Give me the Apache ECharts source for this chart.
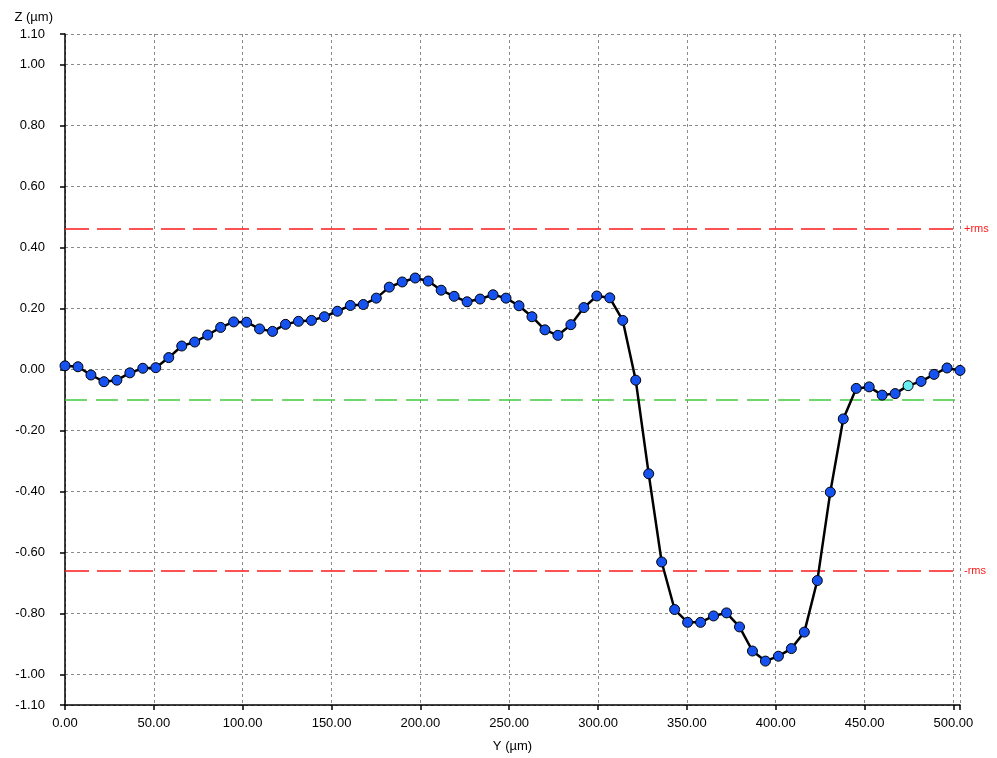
<!DOCTYPE html>
<html>
<head>
<meta charset="utf-8">
<title>Profile Z (µm)</title>
<script src="https://cdn.jsdelivr.net/npm/echarts@6/dist/echarts.min.js"></script>
<style>
  html, body { margin: 0; padding: 0; background: #fff; }
  #chart { width: 997px; height: 758px; }
</style>
</head>
<body>
<div id="chart"></div>
<script>
// Sample positions along the profile (µm)
var positionsY = [
  0, 7.3, 14.6, 21.9, 29.2, 36.5, 43.8, 51.1, 58.4, 65.7,
  73.0, 80.3, 87.6, 94.9, 102.2, 109.5, 116.8, 124.1, 131.4, 138.7,
  146.0, 153.3, 160.6, 167.9, 175.2, 182.5, 189.8, 197.1, 204.4, 211.7,
  219.0, 226.3, 233.6, 240.9, 248.2, 255.5, 262.8, 270.1, 277.4, 284.7,
  292.0, 299.3, 306.6, 313.9, 321.2, 328.5, 335.8, 343.1, 350.4, 357.7,
  365.0, 372.3, 379.6, 386.9, 394.2, 401.5, 408.8, 416.1, 423.4, 430.7,
  438.0, 445.3, 452.6, 459.9, 467.2, 474.5, 481.8, 489.1, 496.4, 503.7
];

// Height values (µm)
var heightsZ = [
  0.012, 0.009, -0.018, -0.040, -0.035, -0.011, 0.004, 0.006, 0.039, 0.077,
  0.090, 0.113, 0.138, 0.156, 0.155, 0.133, 0.125, 0.148, 0.158, 0.161,
  0.173, 0.191, 0.210, 0.213, 0.234, 0.270, 0.287, 0.300, 0.290, 0.260,
  0.240, 0.222, 0.231, 0.245, 0.234, 0.209, 0.173, 0.130, 0.112, 0.147,
  0.203, 0.241, 0.235, 0.161, -0.035, -0.342, -0.631, -0.787, -0.829, -0.829,
  -0.808, -0.798, -0.844, -0.923, -0.956, -0.940, -0.915, -0.861, -0.692, -0.402,
  -0.162, -0.062, -0.057, -0.084, -0.079, -0.053, -0.039, -0.016, 0.005, -0.003
];

// Selected sample (drawn in a lighter colour)
var selectedIndex = 65;

// Reference levels
var meanLevel = -0.097;
var plusRms = 0.464;
var minusRms = -0.658;

// Axis ticks
var zTicks = [-1.10, -1.00, -0.80, -0.60, -0.40, -0.20, 0.00, 0.20, 0.40, 0.60, 0.80, 1.00, 1.10];
var yTickLabels = [0, 50, 100, 150, 200, 250, 300, 350, 400, 450, 500];
var yMax = 503.7;

var FONT = '"Liberation Sans", Arial, sans-serif';
var RED = '#ff1a1a';
var GREEN = '#3fcc3f';

var points = positionsY.map(function (x, i) {
  var item = { value: [x, heightsZ[i]] };
  if (i === selectedIndex) {
    item.itemStyle = { color: '#66eef0' };
  }
  return item;
});

var gridStyle = { color: '#8a8a8a', width: 1, type: [3, 3] };

function rmsLabel(text) {
  return { show: true, position: 'end', formatter: text, color: RED, fontFamily: FONT, fontSize: 11, distance: 4 };
}

var chart = echarts.init(document.getElementById('chart'));
chart.setOption({
  animation: false,
  backgroundColor: '#ffffff',
  grid: { left: 65, right: 37, top: 34, bottom: 48, containLabel: false },
  xAxis: {
    type: 'value',
    min: 0,
    max: yMax,
    name: 'Y (µm)',
    nameLocation: 'middle',
    nameGap: 35,
    nameTextStyle: { fontFamily: FONT, fontSize: 13, color: '#000' },
    axisLine: { show: true, onZero: false, lineStyle: { color: '#000', width: 1.5 } },
    axisTick: { show: true, length: 5, customValues: yTickLabels.concat([yMax]), lineStyle: { color: '#000', width: 1.5 } },
    axisLabel: {
      customValues: yTickLabels,
      margin: 12,
      fontFamily: FONT, fontSize: 13, color: '#000',
      formatter: function (v) { return v.toFixed(2); }
    },
    splitLine: { show: true, lineStyle: gridStyle }
  },
  yAxis: {
    type: 'value',
    min: -1.1,
    max: 1.1,
    name: 'Z (µm)',
    nameLocation: 'end',
    nameGap: 10,
    nameTextStyle: { fontFamily: FONT, fontSize: 13, color: '#000', align: 'right', padding: [0, 12, 0, 0] },
    axisLine: { show: true, onZero: false, lineStyle: { color: '#000', width: 1.5 } },
    axisTick: { show: true, length: 5, customValues: zTicks, lineStyle: { color: '#000', width: 1.5 } },
    axisLabel: {
      customValues: zTicks,
      margin: 20,
      fontFamily: FONT, fontSize: 13, color: '#000',
      formatter: function (v) { return v.toFixed(2); }
    },
    splitLine: { show: true, lineStyle: gridStyle }
  },
  series: [
    {
      // +rms / -rms levels
      type: 'line',
      data: [],
      silent: true,
      markLine: {
        silent: true,
        symbol: 'none',
        lineStyle: { color: RED, width: 1.5, type: [24, 8], opacity: 1 },
        data: [
          { yAxis: plusRms, label: rmsLabel('+rms') },
          { yAxis: minusRms, label: rmsLabel('-rms') }
        ]
      }
    },
    {
      // mean level
      type: 'line',
      data: [],
      silent: true,
      markLine: {
        silent: true,
        symbol: 'none',
        lineStyle: { color: GREEN, width: 1.5, type: [22, 9], opacity: 1 },
        label: { show: false },
        data: [{ yAxis: meanLevel }]
      }
    },
    {
      type: 'line',
      data: points,
      symbol: 'circle',
      symbolSize: 10,
      showAllSymbol: true,
      lineStyle: { color: '#000', width: 2.5 },
      itemStyle: { color: '#1552f0', borderColor: '#000', borderWidth: 1 },
      z: 5
    }
  ]
});
</script>
</body>
</html>
